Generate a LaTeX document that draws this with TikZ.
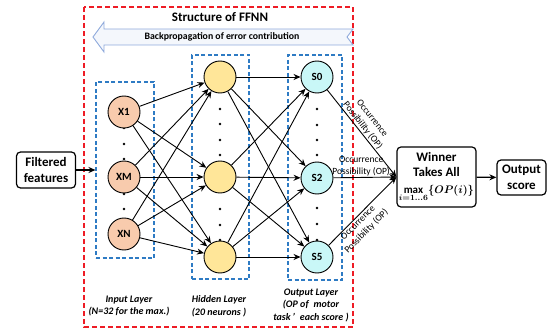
\documentclass[tikz,border=0pt]{standalone}
\usepackage{amsmath}
\usepackage{fontspec}
\setmainfont{Carlito}
\usetikzlibrary{arrows.meta, positioning}

\definecolor{inorange}{HTML}{F8CBAD}
\definecolor{hidyellow}{HTML}{FFE699}
\definecolor{outcyan}{HTML}{C9F7F7}
\definecolor{layerblue}{HTML}{2E7BC4}
\definecolor{ffnnred}{HTML}{EE1C25}
\definecolor{bpline}{HTML}{8FAADC}
\definecolor{bpfill}{HTML}{F4F7FC}

\begin{document}
\begin{tikzpicture}[x=1pt, y=-1pt,
    neuron/.style={circle, draw, line width=0.9pt, minimum size=32pt, inner sep=0pt, font=\fontsize{11}{12}\bfseries},
    layerbox/.style={draw=layerblue, dash pattern=on 4pt off 2.5pt, line width=1.1pt, inner sep=0pt},
    conn/.style={-{Stealth[length=7pt,width=6pt]}, line width=0.9pt},
    block/.style={draw, rounded corners=4pt, line width=1.2pt, align=center, inner sep=2pt, font=\fontsize{13}{15.5}\bfseries},
    oplabel/.style={align=center, inner sep=1pt, font=\fontsize{9.5}{12}\selectfont},
    layername/.style={align=center, font=\fontsize{10}{12.5}\bfseries\itshape}]
    \useasboundingbox (0,0) rectangle (555,329);

    % FFNN frame
    \draw[ffnnred, dash pattern=on 5pt off 3pt, line width=1.3pt] (84,7) rectangle (353,327);
    \node[font=\fontsize{13}{15}\bfseries] (title) at (220,17) {Structure of FFNN};
    \filldraw[fill=bpfill, draw=bpline, line width=0.9pt] (93,37) -- (104,22) -- (104,29) -- (353,29) -- (347,37) -- (353,45) -- (104,45) -- (104,52) -- cycle;
    \node[font=\fontsize{9.8}{11}\bfseries] (backprop) at (222,37) {Backpropagation of error contribution};

    % layers
    \node[layerbox, minimum width=58pt, minimum height=176pt] (inbox) at (125,170) {};
    \node[layerbox, minimum width=57pt, minimum height=224pt] (hidbox) at (220.5,167) {};
    \node[layerbox, minimum width=54pt, minimum height=225pt] (outbox) at (315,167.5) {};

    \fill (124,128) circle[radius=1.3pt] (124,144) circle[radius=1.3pt] (124,159) circle[radius=1.3pt]
          (124,194) circle[radius=1.3pt] (124,209) circle[radius=1.3pt];
    \fill (220,109) circle[radius=1.3pt] (220,124) circle[radius=1.3pt] (220,140) circle[radius=1.3pt] (220,155) circle[radius=1.3pt]
          (220,209) circle[radius=1.3pt] (220,225) circle[radius=1.3pt] (220,240) circle[radius=1.3pt];
    \fill (317,109) circle[radius=1.3pt] (317,125) circle[radius=1.3pt] (317,140) circle[radius=1.3pt] (317,155) circle[radius=1.3pt]
          (317,208) circle[radius=1.3pt] (317,224) circle[radius=1.3pt] (317,240) circle[radius=1.3pt];

    \node[neuron, fill=inorange] (X1) at (124,112) {X1};
    \node[neuron, fill=inorange] (XM) at (124,177) {XM};
    \node[neuron, fill=inorange] (XN) at (124,234) {XN};
    \node[neuron, fill=hidyellow] (H1) at (220,77) {};
    \node[neuron, fill=hidyellow] (H2) at (220,177) {};
    \node[neuron, fill=hidyellow] (H3) at (220,257) {};
    \node[neuron, fill=outcyan] (S0) at (317,77) {S0};
    \node[neuron, fill=outcyan] (S2) at (317,178) {S2};
    \node[neuron, fill=outcyan] (S5) at (317,257) {S5};

    \draw[conn] (X1) -- (H1);
    \draw[conn] (X1) -- (H2);
    \draw[conn] (X1) -- (H3);
    \draw[conn] (XM) -- (H1);
    \draw[conn] (XM) -- (H2);
    \draw[conn] (XM) -- (H3);
    \draw[conn] (XN) -- (H1);
    \draw[conn] (XN) -- (H2);
    \draw[conn] (XN) -- (H3);
    \draw[conn] (H1) -- (S0);
    \draw[conn] (H1) -- (S2);
    \draw[conn] (H1) -- (S5);
    \draw[conn] (H2) -- (S0);
    \draw[conn] (H2) -- (S2);
    \draw[conn] (H2) -- (S5);
    \draw[conn] (H3) -- (S0);
    \draw[conn] (H3) -- (S2);
    \draw[conn] (H3) -- (S5);

    \node[layername] (inlabel) at (129,306) {Input Layer\\(N=32 for the max.)};
    \node[layername] (hidlabel) at (219,306) {Hidden Layer\\(20 neurons )};
    \node[layername] (outlabel) at (311,305) {Output Layer\\(OP of\enspace motor\\task\,’\enspace each score )};

    % outside the frame
    \node[block, minimum width=59pt, minimum height=36pt] (filtered) at (46,170) {Filtered\\features};
    \node[block, minimum width=71pt, minimum height=60pt] (winner) at (436.5,177) {Winner\\Takes All\\[1pt]{\fontsize{11}{12}\selectfont\boldmath$\max\limits_{i=1\ldots6}\{OP(i)\}$}};
    \node[block, minimum width=49pt, minimum height=35pt] (outscore) at (521.5,177.5) {Output\\score};

    \draw[conn, line width=1.3pt] (filtered) -- (inbox.west);
    \draw[conn] (S0) -- node[oplabel, sloped, above, pos=0.45] {Occurrence\\Possibility (OP)} (winner.west);
    \draw[conn] (S2) -- node[oplabel, above, pos=0.44] {Occurrence\\Possibility (OP)} (winner.west);
    \draw[conn] (S5) -- node[oplabel, sloped, below, pos=0.38] {Occurrence\\Possibility (OP)} (winner.west);
    \draw[conn, line width=1.3pt] (winner) -- (outscore);
\end{tikzpicture}
\end{document}
